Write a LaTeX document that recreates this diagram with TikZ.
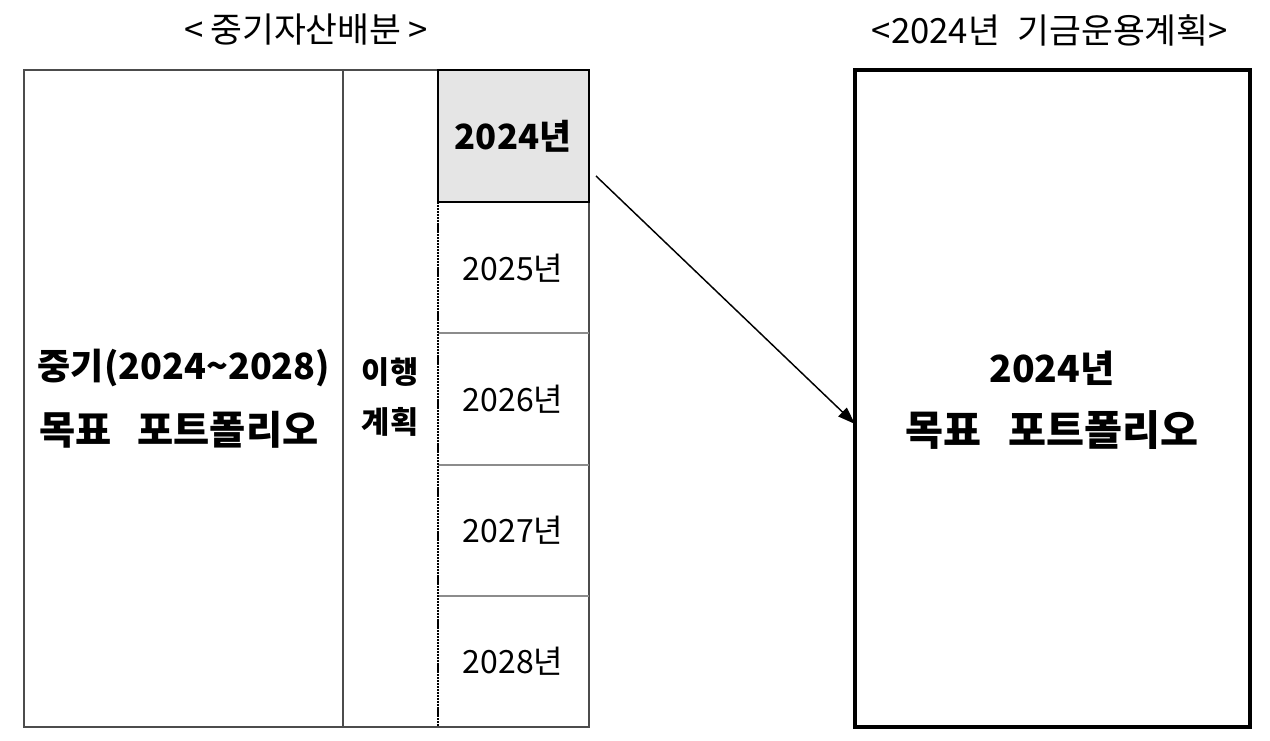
\documentclass[tikz,border=0pt]{standalone}
\usepackage{fontspec}
\setmainfont{Noto Sans CJK KR}
\usetikzlibrary{arrows.meta}
\tikzset{
  px/.style={x=0.75pt,y=-0.75pt},
  thinline/.style={draw=black!70,line width=0.9pt},
  rowline/.style={draw=black!45,line width=0.9pt},
  thickbox/.style={draw=black,line width=2.2pt},
  txt/.style={inner sep=0pt,align=center},
  title/.style={txt,font=\fontsize{26}{30}\selectfont},
  bigbold/.style={txt,font=\fontsize{27}{32}\selectfont\bfseries},
  hangbold/.style={txt,font=\fontsize{29.5}{34}\selectfont\bfseries},
  midbold/.style={txt,font=\fontsize{23}{37}\selectfont\bfseries},
  yearreg/.style={txt,font=\fontsize{24}{28}\selectfont},
  yearbold/.style={txt,font=\fontsize{26}{30}\selectfont\bfseries},
  dotline/.style={draw=black,line width=2.2pt,dash pattern=on 1.6pt off 0.6pt},
  conn/.style={draw=black,line width=1.1pt,-{Triangle[length=13pt,width=9pt]}}
}
\begin{document}
\begin{tikzpicture}[px]
\useasboundingbox (0,0) rectangle (1270,741);
% titles
\node[title] (t1) at (306,30) {<\hspace{0.2em}중기자산배분\hspace{0.2em}>};
\node[title] (t2) at (1050,30) {<2024년\hspace{0.5em}기금운용계획>};
% left block
\draw[thinline] (24,70) rectangle (589,727);
\draw[thinline] (343,70) -- (343,727);
\draw[rowline] (438,333) -- (589,333);
\draw[rowline] (438,465) -- (589,465);
\draw[rowline] (438,596) -- (589,596);
\draw[dotline] (438,202) -- (438,727);
\draw[thickbox,fill=black!10] (438,70) rectangle (589,202);
% texts
\node[bigbold] (mid1) at (184,368) {중기(2024\textasciitilde 2028)};
\node[hangbold] (mid2) at (179,430) {목표\hspace{0.65em}포트폴리오};
\node[midbold] (plan) at (390,397) {이행\\계획};
\node[yearbold] (y24) at (513,136) {2024년};
\node[yearreg] (y25) at (513,268) {2025년};
\node[yearreg] (y26) at (513,399) {2026년};
\node[yearreg] (y27) at (513,530) {2027년};
\node[yearreg] (y28) at (513,661) {2028년};
% right box
\draw[draw=black,line width=2.4pt] (855,70) rectangle (1250,727);
\node[bigbold,font=\fontsize{28}{32}\selectfont\bfseries] (goal1) at (1052,368) {2024년};
\node[hangbold,font=\fontsize{31}{36}\selectfont\bfseries] (goal2) at (1052,430) {목표\hspace{0.65em}포트폴리오};
% arrow
\coordinate (as) at (596,176);
\coordinate (ae) at (855,424);
\draw[conn] (as) -- (ae);
\end{tikzpicture}
\end{document}
